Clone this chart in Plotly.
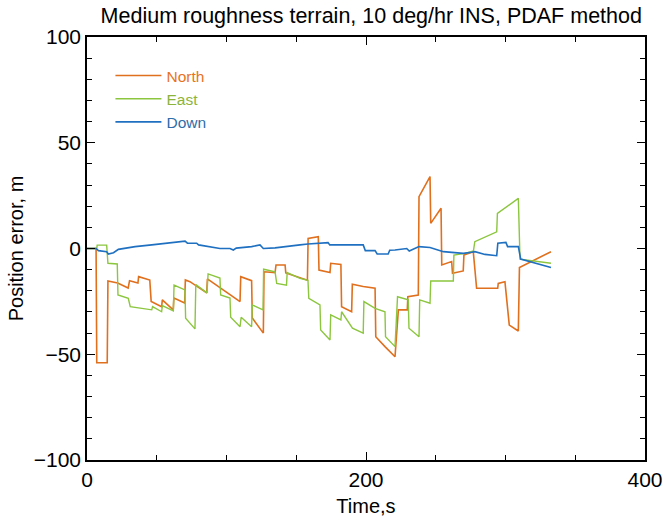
import plotly.graph_objects as go

# ---- data ----
t_north = [0, 6.5, 7, 14.5, 15, 22, 29.5, 30.5, 36.5, 37, 45, 46, 53.5, 54, 61.8, 62.3, 70, 70.5,
           73.8, 85.8, 86.3, 109.7, 110.2, 118, 118.5, 126.4, 126.9, 134.8, 135.5, 142, 142.5, 152.7,
           158, 158.5, 165.8, 166.3, 174.2, 174.7, 182, 182.5, 189.7, 190.2, 198, 206.5, 207, 213.6,
           220.8, 223.2, 229.6, 230, 237.5, 238, 245.9, 246.4, 253.8, 254.3, 261.4, 262, 269.7, 270.2,
           276.9, 279.3, 294.4, 294.8, 299.6, 302.7, 309.2, 310, 332.6]
north = [0, 0, -54, -54, -15.4, -16.3, -18.7, -15.2, -16.3, -13.3, -14.9, -25, -27.5, -24.3, -29, -23.4, -25.8, -14.9,
         -15.7, -21, -14.4, -25.1, -13.3, -15.2, -32.9, -40, -11, -11.4, -7.8, -7.8, -11.6, -14,
         -15, 4.8, 5.6, -10.2, -11.4, -7, -7.5, -27.5, -29.9, -16.9, -18, -18.8, -41.7, -46.4,
         -51.2, -29, -29, -22.8, -22, 24.5, 34, 11.9, 19, -7.8, -6.2, -11.7, -10.6, -3.1,
         -1.5, -18.8, -18.8, -16.5, -15.7, -36.2, -39, -9, -1.5]

t_east = [0, 7, 7.3, 14.1, 15, 21.7, 22.2, 29.6, 31, 46.4, 47, 53.5, 54, 61.9, 62.4, 70.2, 70.7, 77.4,
          78, 86, 86.8, 95.3, 95.8, 102.5, 103, 109.7, 110.5, 118, 118.5, 126.2, 126.6, 134.8, 136, 143,
          143.5, 152.7, 158.4, 159, 167, 167.5, 174.2, 174.7, 182, 182.5, 190.3, 198, 198.5, 206.5,
          213.6, 214, 220.8, 222.6, 230.3, 230.8, 238, 238.5, 245.9, 246.4, 262.6, 263, 271, 277, 278,
          283.6, 293.7, 294.2, 309.2, 310.4, 332.6]
east = [0, 0, 1.6, 1.6, -7, -7.3, -22, -23.6, -27.5, -29, -27.5, -29.9, -27, -29.5, -17.3, -19.6, -33, -38,
        -17, -21, -12, -14, -22, -23.4, -32.5, -37, -32.5, -37, -26.7, -29, -9.8, -11, -16.5, -17.3,
        -11.4, -14.1, -15, -23.6, -26.7, -38.5, -43.3, -31.4, -33.8, -29.9, -37.7, -40, -25.1, -28.3,
        -29.9, -41.7, -46.4, -22.8, -24.3, -37.7, -41.7, -24.3, -25.9, -15.4, -15.4, -3.1, -2.3, -1.2, 3.2,
        4.8, 7.9, 16.6, 23.7, -5, -7]

t_down = [0, 6.5, 8.2, 14.1, 15.3, 19, 22.5, 34.5, 46.4, 58.4, 70.3, 72, 78.6, 80, 84.6, 95.3, 102.5,
          104.9, 107, 118, 124, 126.4, 134.8, 144.3, 152.7, 158.4, 172.8, 174, 184.4, 198, 199.5, 206.5,
          208, 215.9, 217, 220.8, 229.2, 231, 238, 245.9, 255.5, 263.8, 269.7, 275.7, 278.1, 285.3,
          293.7, 294.5, 300.3, 301.5, 309.2, 310.9, 332.6]
down = [0, 0, -1, -1.5, -2.6, -2, -0.4, 0.9, 1.7, 2.5, 3.5, 2.5, 2.5, 1.7, 1.2, 0, 0,
        -0.7, 0.2, 0.9, 1.7, 0, 0.3, 1.2, 1.7, 2.1, 2.8, 1.7, 1.7, 1.7, -1, -1,
        -2.6, -2.6, -0.8, -0.7, 0, -1.2, 0.9, 0.5, -1.5, -1.8, -2.3, -1.8, -1.5, -2.8,
        -3.4, 2.5, 2.9, 0.9, 0.9, -5, -9]

x_ticks = [0, 200, 400]
y_ticks = [-100, -50, 0, 50, 100]

FONT = "Liberation Sans, Arial, sans-serif"

fig = go.Figure()
fig.add_trace(go.Scatter(x=t_north, y=north, mode="lines",
                         name="<span style='color:#E8731E'>North</span>",
                         line=dict(color="#E0701E", width=1.6)))
fig.add_trace(go.Scatter(x=t_east, y=east, mode="lines",
                         name="<span style='color:#8DB43A'>East</span>",
                         line=dict(color="#8CC63F", width=1.4)))
fig.add_trace(go.Scatter(x=t_down, y=down, mode="lines",
                         name="<span style='color:#2F6CA8'>Down</span>",
                         line=dict(color="#1F70C1", width=1.6)))

axis_common = dict(showline=True, linecolor="black", linewidth=1.5, mirror="ticks",
                   ticks="inside", ticklen=8, tickwidth=1.2, tickcolor="black",
                   showgrid=False, zeroline=False, automargin=False,
                   tickfont=dict(family=FONT, size=21, color="black"))

fig.update_xaxes(range=[0, 400], tickvals=x_ticks,
                 minor=dict(dtick=50, ticks="inside", ticklen=5, tickcolor="black", showgrid=False),
                 title=dict(text="Time,s", font=dict(family=FONT, size=20, color="black"), standoff=9),
                 **axis_common)
fig.update_yaxes(range=[-100, 100], tickvals=y_ticks,
                 minor=dict(dtick=10, ticks="inside", ticklen=5, tickcolor="black", showgrid=False),
                 title=dict(text="Position error, m", font=dict(family=FONT, size=20, color="black"), standoff=5),
                 **axis_common)

fig.update_layout(
    width=663, height=521,
    margin=dict(l=87, r=18, t=37, b=61, autoexpand=False),
    paper_bgcolor="white", plot_bgcolor="white",
    title=dict(text="Medium roughness terrain, 10 deg/hr INS, PDAF method",
               x=0.56, xanchor="center", y=0.971, yanchor="middle",
               font=dict(family=FONT, size=21.5, color="black")),
    legend=dict(x=0.042, y=0.948, xanchor="left", yanchor="top",
                bgcolor="rgba(0,0,0,0)", borderwidth=0, itemwidth=46,
                font=dict(family=FONT, size=15.5)),
    showlegend=True,
)

fig.write_html("out.html", config={"displayModeBar": False},
               post_script="document.body.style.margin='0';")
